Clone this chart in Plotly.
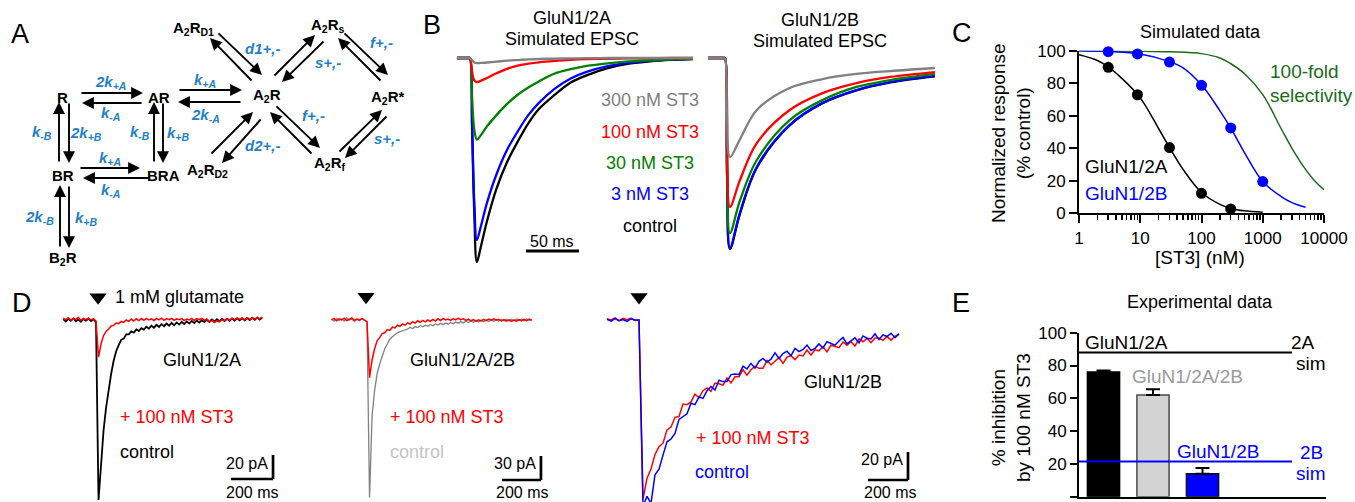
import plotly.graph_objects as go

W, H = 1355, 502
FONT = "Liberation Sans, Arial, Helvetica, sans-serif"

# ====================== DATA ======================
# Panel B - simulated EPSCs (time in ms, current normalised to GluN1/2A control peak)
t_2a = [-12.3, -1, 0, 2, 4, 6.5, 10, 16, 25, 35, 45, 55, 65, 80, 95, 110, 130, 150, 170, 190, 210.4]
ctrl_2a = [0, 0, 0, -0.35, -0.75, -1.0, -0.93, -0.80, -0.64, -0.51, -0.41, -0.32, -0.25, -0.18, -0.12, -0.085, -0.05, -0.028, -0.016, -0.009, -0.005]
st3_3_2a = [0, 0, 0, -0.33, -0.70, -0.892, -0.83, -0.71, -0.57, -0.45, -0.36, -0.28, -0.22, -0.15, -0.10, -0.068, -0.04, -0.024, -0.014, -0.008, -0.004]
st3_30_2a = [0, 0, 0, -0.2, -0.35, -0.40, -0.38, -0.335, -0.28, -0.225, -0.18, -0.145, -0.115, -0.076, -0.055, -0.039, -0.026, -0.017, -0.011, -0.007, -0.004]
st3_100_2a = [0, 0, 0, -0.07, -0.11, -0.118, -0.112, -0.098, -0.075, -0.053, -0.037, -0.028, -0.021, -0.014, -0.009, -0.006, -0.004, -0.002, -0.001, 0, 0]
st3_300_2a = [0, 0, 0, -0.012, -0.022, -0.025, -0.024, -0.022, -0.018, -0.013, -0.010, -0.007, -0.005, -0.003, -0.002, -0.001, 0, 0, 0, 0, 0]

t_2b = [-16, -1, 0, 2, 4.7, 14, 30, 61, 92, 124, 156, 198]
ctrl_2b = [0, 0, 0, -0.585, -0.936, -0.765, -0.538, -0.331, -0.222, -0.159, -0.12, -0.09]
st3_3_2b = [0, 0, 0, -0.58, -0.931, -0.76, -0.534, -0.328, -0.22, -0.157, -0.118, -0.088]
st3_30_2b = [0, 0, 0, -0.53, -0.858, -0.70, -0.50, -0.304, -0.206, -0.142, -0.108, -0.078]
st3_100_2b = [0, 0, 0, -0.45, -0.73, -0.60, -0.417, -0.255, -0.172, -0.123, -0.093, -0.069]
st3_300_2b = [0, 0, 0, -0.30, -0.485, -0.40, -0.255, -0.147, -0.103, -0.078, -0.064, -0.049]
b_labels = ["300 nM ST3", "100 nM ST3", "30 nM ST3", "3 nM ST3", "control"]

# Panel C - concentration-response (nM, % control)
conc_2a = [3, 9, 30, 100, 300]
resp_2a = [89.8, 72.9, 40.4, 12.3, 2.7]
conc_2b = [3, 9, 30, 100, 300, 1000]
resp_2b = [99.4, 98.0, 93.0, 78.7, 52.5, 19.5]
fit_conc_2a = [1, 2, 3, 5, 10, 20, 30, 50, 100, 200, 300, 500, 1000]
fit_resp_2a = [97.5, 94, 90, 83, 71, 52, 40.5, 27, 12.8, 5.5, 3, 1.5, 0.6]
fit_conc_2b = [1, 3, 10, 30, 50, 100, 200, 300, 500, 1000, 2000, 3000, 5000]
fit_resp_2b = [100, 99.5, 98, 93.3, 89.5, 79, 63, 52.5, 37.5, 19.5, 10.3, 6.6, 3.7]
fit_conc_sel = [1, 10, 30, 100, 200, 300, 500, 1000, 2000, 3000, 5000, 7000, 10000]
fit_resp_sel = [100, 99.7, 99.3, 98.2, 95.5, 92, 86, 73, 52, 40, 27, 20, 14.5]
c_xticks = [1, 10, 100, 1000, 10000]
c_xticklabels = ["1", "10", "100", "1000", "10000"]
c_yticks = [0, 20, 40, 60, 80, 100]

# Panel D - recorded currents (time in ms from glutamate, current in pA)
d1_t0, d1_dt = -156, 12
d1_control = [0.8, -1.2, 1.0, -0.6, 1.3, -1.0, 0.4, -1.4, 0.9, -0.5, 1.1, -0.9, 0.6,
              -2, -150, -116, -92, -73, -57, -45, -34, -26, -21, -16.5, -15.5, -12, -12, -9.5, -10.5, -7.8,
              -9.2, -6.8, -8.0, -5.6, -7.2, -4.8, -6.4, -4.0, -5.8, -3.5,
              -5.2, -3.0, -4.8, -2.4, -4.4, -2.0, -3.8, -1.5, -3.4, -1.2,
              -3.0, -0.8, -2.6, -0.4, -2.2, -0.2, -1.8, 0.2, -1.6, 0.5,
              -1.2, 0.6, -1.0, 0.9, -0.8, 1.0, -0.6, 1.2, -0.5, 1.4,
              -0.3, 1.5, -0.2, 1.6, 0.0, 1.8, 0.2, 2.0, 0.4, 2.2]
d1_st3 = [1.5, 0.2, 1.8, -0.3, 1.2, 0.5, 2.0, -0.2, 1.4, 0.3, 1.6, 0.0, 1.0,
          -1, -31, -20, -13, -9.5, -7.5, -5, -4.5, -2.5, -3, -1.2, -2.0, 0.0, -1.2, 0.8, -0.8, 1.0,
          -0.5, 1.2, -0.2, 1.4, 0.0, 1.0, -0.4, 1.3, 0.1, 1.5,
          -0.3, 1.1, 0.2, 1.4, -0.2, 1.0, 0.3, 1.2, -0.5, 0.8,
          0.0, 1.3, -0.4, 1.1, 0.2, 1.4, -0.3, 0.9, -1.5, -0.4,
          -2.2, -0.8, -1.6, 0.2, -0.6, 1.2, 0.0, 1.5, 0.3, 1.8,
          0.5, 1.6, 0.2, 1.9, 0.6, 2.0, 0.8, 2.2, 0.9, 2.4]
d2_t0, d2_dt = -182, 13
d2_control = [1.0, -1.5, 2.0, -0.5, 1.5, -1.2, 2.5, 0.0, 1.2, -1.8, 0.8, -1.0, 1.8, -0.5,
              -2, -222, -120, -88, -67, -55, -44, -36, -30, -24, -21, -18, -16, -14.5, -13, -12.5, -11.5,
              -9.0, -11.0, -8.2, -9.5, -7.2, -8.6, -6.4, -7.8, -5.6, -7.2,
              -5.0, -6.4, -4.2, -5.8, -3.6, -5.2, -3.0, -4.6, -2.6, -4.0,
              -2.0, -3.6, -1.6, -3.2, -1.2, -2.8, -0.8, -2.4, -0.4, -2.2,
              0.0, -1.8, 0.2, -1.5, 0.5, -1.2, 0.6, -1.0, 0.9, -0.8,
              1.0, -0.6, 1.2, -0.5, 1.0, -0.8, 1.2, -0.4, 0.8]
d2_st3 = [0.5, 2.0, -1.0, 1.5, 0.0, 2.2, -0.8, 1.0, 2.5, -0.5, 1.2, 0.2, 1.8, -0.2,
          -2, -72, -50, -36, -26, -22, -17, -16, -12, -13, -9, -10, -6.5, -8, -5, -6.5, -3.5, -5,
          -2.0, -3.8, -1.0, -3.0, -0.5, -2.4, 0.2, -1.8, 0.8, -1.2,
          1.5, -0.6, 2.0, 0.0, 1.2, -0.5, 1.8, 0.2, 2.2, 0.5,
          1.5, -0.5, 1.0, -1.0, 0.5, -1.5, 0.2, -1.2, 0.8, -0.8,
          1.2, -0.3, 1.5, 0.0, 0.8, -1.2, 0.5, -1.5, 0.2, -1.8,
          0.0, -1.5, 0.5, -1.0, 0.8, -0.8, 1.0, -0.5]
d3_t0, d3_dt = -160, 20
d3_control = [0.5, -0.8, 1.0, -0.5, 0.3, -1.0, 0.8, 0.0,
              0.0, -133, -126, -131,
              -110.5, -106.5, -96.5, -87, -85, -81, -71, -69, -67, -59.5,
              -60.5, -55, -56, -50.5, -47.5, -50, -43, -44, -44, -39,
              -38.5, -39, -33, -35, -31, -34.5, -29.5, -27.5, -30, -28,
              -23.5, -27.5, -24, -22.3, -25.5, -20.3, -22.6, -21, -17.9, -21.8,
              -20.2, -17.1, -20, -15.5, -16.5, -18, -15, -12.5, -17, -15.1,
              -12.7, -16.3, -11.4, -13, -13.6, -9.8, -14, -10.6, -11.8, -9.5,
              -12.7, -9.9]
d3_st3 = [1.0, 0.0, 1.5, -0.5, 1.2, 0.2, 1.4, -0.3, 0.0,
          -128, -113, -106.5, -96, -90.5, -88, -78.5, -76.5, -69.5, -69,
          -60, -60.5, -58.5, -53, -55.5, -50.5, -48.5, -51, -45, -45.5,
          -46.5, -41.5, -45, -40.5, -40.5, -35.5, -39.5, -35.5, -33, -34.5,
          -34.5, -29, -32, -29.5, -26.8, -31, -26.5, -25.5, -28.3, -25,
          -25.7, -21.5, -25, -21.3, -22, -19, -22.8, -18, -19, -19.8,
          -15.7, -18, -15.5, -18.5, -13.5, -15.5, -13.1, -16.2, -12.8, -12.9,
          -14.5, -11.7, -14.4, -11.6, -10.3]

# Panel E - experimental inhibition by 100 nM ST3 (%)
e_groups = ["GluN1/2A", "GluN1/2A/2B", "GluN1/2B"]
e_pos = [1, 2, 3]
e_mean = [76, 62, 14]
e_sem = [1, 3.5, 3.5]
sim_2a_inhib = 88
sim_2b_inhib = 21.5
e_yticks = [0, 20, 40, 60, 80, 100]

# ====================== LAYOUT HELPERS ======================
def xdom(a, b):
    return [a / W, b / W]

def ydom(top, bot):
    return [1 - bot / H, 1 - top / H]

def xr(a, b, origin, ppu):
    return [(a - origin) / ppu, (b - origin) / ppu]

def yr(top, bot, origin, ppu):
    return [(origin - bot) / ppu, (origin - top) / ppu]

def T(px, py, s, size=18, color="black", xa="center", ya="middle", angle=0):
    return dict(x=px / W, y=1 - py / H, xref="paper", yref="paper", text=s, showarrow=False,
                font=dict(size=size, color=color, family=FONT), xanchor=xa, yanchor=ya,
                textangle=angle)

hid = dict(visible=False, showgrid=False, zeroline=False, fixedrange=True)

BLACK, BLUE, GREEN, RED, GRAY = "#000000", "#0000ff", "#008000", "#ff0000", "#808080"
DKGREEN = "#1a6b1a"
RATE = "#1f7fc8"

fig = go.Figure()

def line_trace(x, y, ax, color, width, spline=True):
    return go.Scatter(x=x, y=y, xaxis="x" + ax, yaxis="y" + ax, mode="lines",
                      line=dict(color=color, width=width, shape="spline" if spline else "linear",
                                smoothing=1.0),
                      hoverinfo="skip", showlegend=False)

# ---- Panel B traces ----
for ys, col in [(ctrl_2a, BLACK), (st3_3_2a, BLUE), (st3_30_2a, GREEN), (st3_100_2a, RED), (st3_300_2a, GRAY)]:
    fig.add_trace(line_trace(t_2a, ys, "2", col, 2.3))
for ys, col in [(ctrl_2b, BLACK), (st3_3_2b, BLUE), (st3_30_2b, GREEN), (st3_100_2b, RED), (st3_300_2b, GRAY)]:
    fig.add_trace(line_trace(t_2b, ys, "3", col, 2.3))

# ---- Panel C ----
fig.add_trace(line_trace(fit_conc_sel, fit_resp_sel, "4", DKGREEN, 1.5))
fig.add_trace(line_trace(fit_conc_2a, fit_resp_2a, "4", BLACK, 1.5))
fig.add_trace(line_trace(fit_conc_2b, fit_resp_2b, "4", BLUE, 1.5))
fig.add_trace(go.Scatter(x=conc_2a, y=resp_2a, xaxis="x4", yaxis="y4", mode="markers",
                         marker=dict(color=BLACK, size=11), cliponaxis=False,
                         hoverinfo="skip", showlegend=False))
fig.add_trace(go.Scatter(x=conc_2b, y=resp_2b, xaxis="x4", yaxis="y4", mode="markers",
                         marker=dict(color=BLUE, size=11), cliponaxis=False,
                         hoverinfo="skip", showlegend=False))

# ---- Panel D ----
def noisy(t0, dt, y, ax, color, width):
    return go.Scatter(x0=t0, dx=dt, y=y, xaxis="x" + ax, yaxis="y" + ax, mode="lines",
                      line=dict(color=color, width=width), hoverinfo="skip", showlegend=False)

fig.add_trace(noisy(d1_t0, d1_dt, d1_control, "5", BLACK, 1.8))
fig.add_trace(noisy(d1_t0, d1_dt, d1_st3, "5", RED, 1.5))
fig.add_trace(noisy(d2_t0, d2_dt, d2_control, "6", GRAY, 1.3))
fig.add_trace(noisy(d2_t0, d2_dt, d2_st3, "6", RED, 1.5))
fig.add_trace(noisy(d3_t0, d3_dt, d3_st3, "7", RED, 1.5))
fig.add_trace(noisy(d3_t0, d3_dt, d3_control, "7", BLUE, 1.5))

# glutamate application markers (at t = 0)
for ax, yoff, toff in [("5", 19, 10), ("6", 29, -5), ("7", 16.4, 0)]:
    fig.add_trace(go.Scatter(x=[0 + toff], y=[yoff], xaxis="x" + ax, yaxis="y" + ax, mode="markers",
                             marker=dict(symbol="triangle-down", size=15, color=BLACK),
                             cliponaxis=False, hoverinfo="skip", showlegend=False))

# ---- Panel E ----
fig.add_trace(go.Bar(x=e_pos, y=e_mean, width=0.65, xaxis="x8", yaxis="y8",
                     marker=dict(color=[BLACK, "#d3d3d3", BLUE],
                                 line=dict(color=[BLACK, "#4a4a4a", "#111111"], width=1.5)),
                     error_y=dict(type="data", array=e_sem, arrayminus=[0, 0, 0], symmetric=False,
                                  color=BLACK, thickness=2, width=7),
                     hoverinfo="skip", showlegend=False))

# ====================== AXES ======================
axis_style = dict(showline=True, linecolor="black", linewidth=2, ticks="outside", tickwidth=2,
                  tickcolor="black", showgrid=False, zeroline=False, fixedrange=True,
                  tickfont=dict(size=17, family=FONT, color="black"))

minor_vals = [m * d for d in [1, 10, 100, 1000] for m in range(2, 10)]

fig.update_layout(
    width=W, height=H, margin=dict(l=0, r=0, t=0, b=0, pad=0, autoexpand=False), autosize=False,
    paper_bgcolor="white", plot_bgcolor="white", hovermode=False,
    font=dict(family=FONT, color="black"),
    bargap=0,
    # A - scheme (pixel-like coordinates)
    xaxis=dict(**hid, domain=xdom(0, 420), range=[0, 420], anchor="y"),
    yaxis=dict(**hid, domain=ydom(0, 270), range=[270, 0], anchor="x"),
    # B
    xaxis2=dict(**hid, domain=xdom(450, 702), range=xr(450, 702, 470, 1.06), anchor="y2"),
    yaxis2=dict(**hid, domain=ydom(40, 270), range=yr(40, 270, 58, 204), anchor="x2"),
    xaxis3=dict(**hid, domain=xdom(704, 945), range=xr(704, 945, 725, 1.06), anchor="y3"),
    yaxis3=dict(**hid, domain=ydom(40, 270), range=yr(40, 270, 58, 204), anchor="x3"),
    # C
    xaxis4=dict(**axis_style, type="log", domain=xdom(1079, 1324), range=[0, 4], anchor="y4",
                tickvals=c_xticks, ticktext=c_xticklabels, ticklen=8,
                minor=dict(ticks="outside", ticklen=5, tickwidth=1.5, tickcolor="black",
                           tickvals=minor_vals, showgrid=False)),
    yaxis4=dict(**axis_style, domain=ydom(50.7, 213.3), range=[0, 100], anchor="x4",
                tickvals=c_yticks, ticklen=8),
    # D
    xaxis5=dict(**hid, domain=xdom(55, 300), range=xr(55, 300, 96, 0.21), anchor="y5"),
    yaxis5=dict(**hid, domain=ydom(285, 502), range=yr(285, 502, 320, 1.2), anchor="x5"),
    xaxis6=dict(**hid, domain=xdom(325, 560), range=xr(325, 560, 367, 0.195), anchor="y6"),
    yaxis6=dict(**hid, domain=ydom(285, 502), range=yr(285, 502, 320, 0.8), anchor="x6"),
    xaxis7=dict(**hid, domain=xdom(600, 930), range=xr(600, 930, 639, 0.2), anchor="y7"),
    yaxis7=dict(**hid, domain=ydom(285, 502), range=yr(285, 502, 320, 1.4), anchor="x7"),
    # E
    xaxis8=dict(showline=True, linecolor="black", linewidth=2, showticklabels=False, ticks="",
                showgrid=False, zeroline=False, fixedrange=True,
                domain=xdom(1079, 1326), range=xr(1079, 1326, 1054, 49.5), anchor="y8"),
    yaxis8=dict(**axis_style, domain=ydom(332.7, 496.7), range=[0, 100], anchor="x8",
                tickvals=e_yticks, ticklen=7),
)

# ====================== SHAPES ======================
shapes = []
def seg(ax, x0, y0, x1, y1, w=2.7, color="black"):
    shapes.append(dict(type="line", xref="x" + ax, yref="y" + ax, x0=x0, y0=y0, x1=x1, y1=y1,
                       line=dict(color=color, width=w)))

# B scale bar: 50 ms
seg("2", 52.8, -0.946, 102.8, -0.946, 3)
# D scale bars (200 ms / 20, 30, 20 pA)
seg("5", 643, -132.5, 843, -132.5); seg("5", 843, -132.5, 843, -112.5)
seg("6", 692, -200, 892, -200); seg("6", 892, -200, 892, -170)
seg("7", 1145, -114.3, 1345, -114.3); seg("7", 1345, -114.3, 1345, -94.3)
# E simulated inhibition lines
line_end = (1292 - 1079) / (1326 - 1079)
shapes.append(dict(type="line", xref="x8 domain", yref="y8", x0=0, x1=line_end,
                   y0=sim_2a_inhib, y1=sim_2a_inhib, line=dict(color=BLACK, width=2)))
shapes.append(dict(type="line", xref="x8 domain", yref="y8", x0=0, x1=line_end,
                   y0=sim_2b_inhib, y1=sim_2b_inhib, line=dict(color=BLUE, width=2)))
fig.update_layout(shapes=shapes)

# ====================== ANNOTATIONS ======================
ann = []
# panel letters
for s, px, py in [("A", 20, 34), ("B", 432, 25), ("C", 962, 33), ("D", 22, 303), ("E", 961, 303)]:
    ann.append(T(px, py, s, size=27))

# --- A scheme ---
species = [("R", 62, 97), ("AR", 159, 97), ("A<sub>2</sub>R", 267, 95),
           ("A<sub>2</sub>R<sub>D1</sub>", 193, 28), ("A<sub>2</sub>R<sub>s</sub>", 328, 25),
           ("A<sub>2</sub>R*", 388, 97), ("A<sub>2</sub>R<sub>f</sub>", 330, 163),
           ("A<sub>2</sub>R<sub>D2</sub>", 207, 170), ("BR", 63, 175), ("BRA", 163, 175),
           ("B<sub>2</sub>R", 63, 258)]
for s, x, y in species:
    ann.append(dict(x=x, y=y, xref="x", yref="y", text="<b>" + s + "</b>", showarrow=False,
                    font=dict(size=15, color="black", family=FONT), xanchor="center", yanchor="middle"))
rates = [("2k<sub>+A</sub>", 110, 82), ("k<sub>-A</sub>", 110, 113), ("k<sub>+A</sub>", 205, 80),
         ("2k<sub>-A</sub>", 205, 115), ("k<sub>-B</sub>", 42, 132), ("2k<sub>+B</sub>", 86, 133),
         ("k<sub>-B</sub>", 140, 132), ("k<sub>+B</sub>", 178, 133), ("k<sub>+A</sub>", 110, 158),
         ("k<sub>-A</sub>", 110, 190), ("2k<sub>-B</sub>", 39, 217), ("k<sub>+B</sub>", 86, 218),
         ("d1+,-", 262, 48), ("s+,-", 328, 62), ("f+,-", 381, 42), ("d2+,-", 262, 145),
         ("f+,-", 313, 115), ("s+,-", 387, 138)]
for s, x, y in rates:
    ann.append(dict(x=x, y=y, xref="x", yref="y", text="<b><i>" + s + "</i></b>", showarrow=False,
                    font=dict(size=15, color=RATE, family=FONT), xanchor="center", yanchor="middle"))
arrows = [((80, 93), (143, 93)), ((143, 103), (82, 103)), ((178, 90), (242, 90)), ((242, 102), (178, 102)),
          ((59, 163), (59, 102)), ((69, 102), (69, 163)), ((154, 163), (154, 102)), ((163, 102), (163, 163)),
          ((79, 168), (140, 168)), ((150, 178), (83, 178)), ((60, 248), (60, 185)), ((69, 185), (69, 248)),
          ((217, 32), (262, 75)), ((253, 82), (210, 38)), ((273, 77), (315, 35)), ((325, 40), (282, 82)),
          ((343, 32), (388, 75)), ((382, 82), (338, 38)), ((262, 118), (222, 163)), ((210, 155), (253, 112)),
          ((275, 105), (320, 148)), ((313, 155), (270, 112)), ((338, 153), (382, 110)), ((388, 115), (345, 158))]
for (tx, ty), (hx, hy) in arrows:
    ann.append(dict(x=hx, y=hy, ax=tx, ay=ty, xref="x", yref="y", axref="x", ayref="y", text="",
                    showarrow=True, arrowhead=2, arrowsize=1.25, arrowwidth=1.9, arrowcolor="black",
                    standoff=0, startstandoff=0))

# --- B ---
ann += [T(572, 18, "GluN1/2A"), T(572, 39, "Simulated EPSC"),
        T(820, 20, "GluN1/2B"), T(820, 41, "Simulated EPSC"),
        T(552, 241, "50 ms", size=16)]
for s, py, col in zip(b_labels, [100, 132, 163, 194, 226], [GRAY, RED, GREEN, BLUE, BLACK]):
    ann.append(T(650, py, s, color=col))

# --- C ---
ann += [T(1200, 32, "Simulated data"),
        T(1200, 257, "[ST3] (nM)", size=19),
        T(1011, 133, "Normalized response<br>(% control)", size=19, angle=-90),
        T(1083, 167, "GluN1/2A", size=19, xa="left"),
        T(1083, 193, "GluN1/2B", size=19, color=BLUE, xa="left"),
        T(1268, 72, "100-fold", size=19, color=DKGREEN, xa="left"),
        T(1268, 95, "selectivity", size=19, color=DKGREEN, xa="left")]

# --- D ---
ann += [T(113, 297, "1 mM glutamate", xa="left"),
        T(202, 360, "GluN1/2A"),
        T(118, 417, "+ 100 nM ST3", color=RED, xa="left"),
        T(118, 452, "control", xa="left"),
        T(270, 463, "20 pA", size=16, xa="right"),
        T(252, 492, "200 ms", size=16),
        T(408, 360, "GluN1/2A/2B", xa="left"),
        T(388, 417, "+ 100 nM ST3", color=RED, xa="left"),
        T(388, 452, "control", color="#c4c4c4", xa="left"),
        T(538, 463, "30 pA", size=16, xa="right"),
        T(522, 492, "200 ms", size=16),
        T(802, 382, "GluN1/2B", xa="left"),
        T(694, 438, "+ 100 nM ST3", color=RED, xa="left"),
        T(693, 472, "control", color=BLUE, xa="left"),
        T(905, 459, "20 pA", size=16, xa="right"),
        T(890, 492, "200 ms", size=16)]

# --- E ---
ann += [T(1200, 302, "Experimental data"),
        T(1011, 418, "% inhibition<br>by 100 nM ST3", size=19, angle=-90),
        T(1083, 342, e_groups[0], size=19, xa="left"),
        T(1130, 376, e_groups[1], size=19, color="#9a9a9a", xa="left"),
        T(1175, 451, e_groups[2], size=19, color=BLUE, xa="left"),
        T(1303, 342, "2A", size=19), T(1311, 363, "sim", size=19),
        T(1311, 452, "2B", size=19, color=BLUE), T(1311, 473, "sim", size=19, color=BLUE)]

fig.update_layout(annotations=ann)

fig.write_html("out.html", config={"displayModeBar": False, "staticPlot": True},
               post_script="document.body.style.margin='0px';document.body.style.overflow='hidden';")
